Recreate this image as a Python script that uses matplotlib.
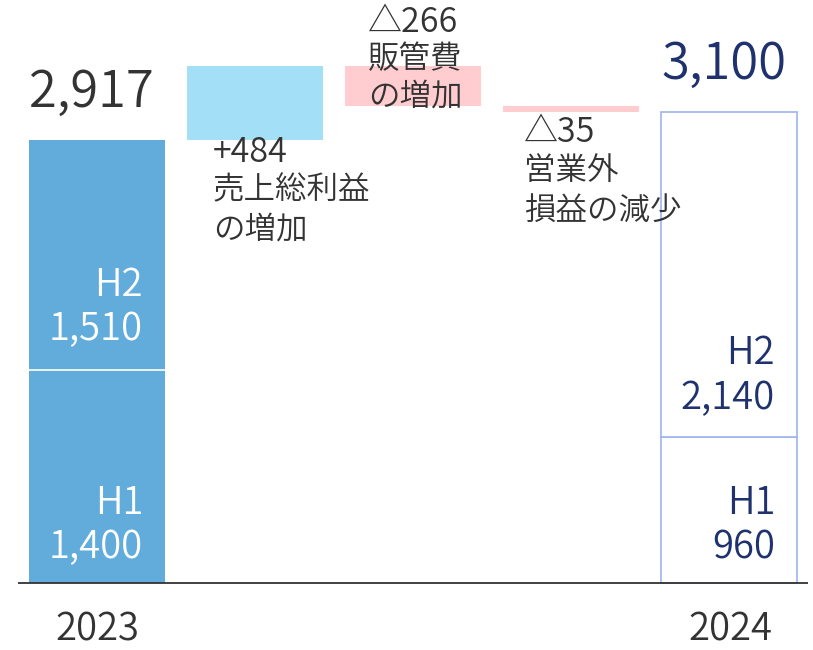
import matplotlib
matplotlib.use("Agg")
import matplotlib.pyplot as plt

plt.rcParams['font.family'] = ['Noto Sans CJK JP', 'DejaVu Sans']

# ---- data ----
categories = ["2023", "gross", "sga", "nonop", "2024"]
h1_2023, h2_2023, total_2023 = 1400, 1510, 2917
h1_2024, h2_2024, total_2024 = 960, 2140, 3100
delta_values = [484, -266, -35]
delta_labels = [["+484", "売上総利益", "の増加"],
                ["△266", "販管費", "の増加"],
                ["△35", "営業外", "損益の減少"]]
year_labels = ["2023", "2024"]

# ---- style ----
c_2023 = "#62ACDB"
c_up = "#A3E0F7"
c_down = "#FFCCCF"
c_2024_edge = "#9DB4EE"
c_navy = "#1F326E"
c_text = "#333333"

W, H, DPI = 813, 650, 100
fig = plt.figure(figsize=(W / DPI, H / DPI), dpi=DPI)
ax = fig.add_axes([0, 0, 1, 1])
ax.set_axis_off()

# pixel mapping for limits
x0_px, dx_px = 97, 158
base_px, scale = 582.7, 0.1519
ax.set_xlim(-x0_px / dx_px, (W - x0_px) / dx_px)
ax.set_ylim(-(H - base_px) / scale, base_px / scale)

bw = 0.86
xs = list(range(len(categories)))

# 2023 stacked
ax.bar(xs[0], h1_2023, width=bw, color=c_2023, edgecolor="none")
ax.bar(xs[0], total_2023 - h1_2023, bottom=h1_2023, width=bw, color=c_2023, edgecolor="none")
ax.hlines(h1_2023, xs[0] - bw / 2, xs[0] + bw / 2, color="white", lw=1.2, zorder=3)

# deltas
level = total_2023
for i, d in enumerate(delta_values):
    x = xs[i + 1]
    if d >= 0:
        ax.bar(x, d, bottom=level, width=bw, color=c_up, edgecolor="none")
    else:
        ax.bar(x, -d, bottom=level + d, width=bw, color=c_down, edgecolor="none")
    level += d

# 2024 outlined
ax.bar(xs[4], h1_2024, width=bw, color="white", edgecolor=c_2024_edge, lw=1.2)
ax.bar(xs[4], total_2024 - h1_2024, bottom=h1_2024, width=bw, color="white",
       edgecolor=c_2024_edge, lw=1.2)

# baseline
ax.hlines(0, -0.5, 4.5, color="#333333", lw=1.3, zorder=4)


def px(xp, yp):
    return (xp - x0_px) / dx_px, (base_px - yp) / scale


FW = 350

# totals
tx, ty = px(91, 93)
ax.text(tx, ty, f"{total_2023:,}", fontsize=36.5, color=c_text, ha="center", va="center",
        fontweight=FW)
tx, ty = px(724, 65)
ax.text(tx, ty, f"{total_2024:,}", fontsize=36.5, color=c_navy, ha="center", va="center",
        fontweight=FW)

# segment labels
seg_fs = 27.5
for (xr, yh, yv, txt1, txt2, col) in [
    (143, 285, 330, "H2", f"{h2_2023:,}", "white"),
    (143, 503, 548, "H1", f"{h1_2023:,}", "white"),
    (775, 354, 399, "H2", f"{h2_2024:,}", c_navy),
    (775, 503, 548, "H1", f"{h1_2024:,}", c_navy),
]:
    a, b = px(xr, yh)
    ax.text(a, b, txt1, fontsize=seg_fs, color=col, ha="right", va="center", fontweight=FW)
    a, b = px(xr, yv)
    ax.text(a, b, txt2, fontsize=seg_fs, color=col, ha="right", va="center", fontweight=FW)

# delta annotations
ann_fs = 22.7
num_fs = 24.5
ann_pos = [(213, [153, 191, 230]), (368, [22, 60, 97]), (524, [133, 172, 211])]
for lines, (xl, ys) in zip(delta_labels, ann_pos):
    for k, (t, yy) in enumerate(zip(lines, ys)):
        a, b = px(xl, yy)
        ax.text(a, b, t, fontsize=num_fs if k == 0 else ann_fs, color=c_text,
                ha="left", va="center", fontweight=FW)

# year labels
for lab, xc in zip(year_labels, [97, 730]):
    a, b = px(xc, 630)
    ax.text(a, b, lab, fontsize=seg_fs, color=c_text, ha="center", va="center", fontweight=FW)

fig.savefig("out.png", dpi=DPI)
